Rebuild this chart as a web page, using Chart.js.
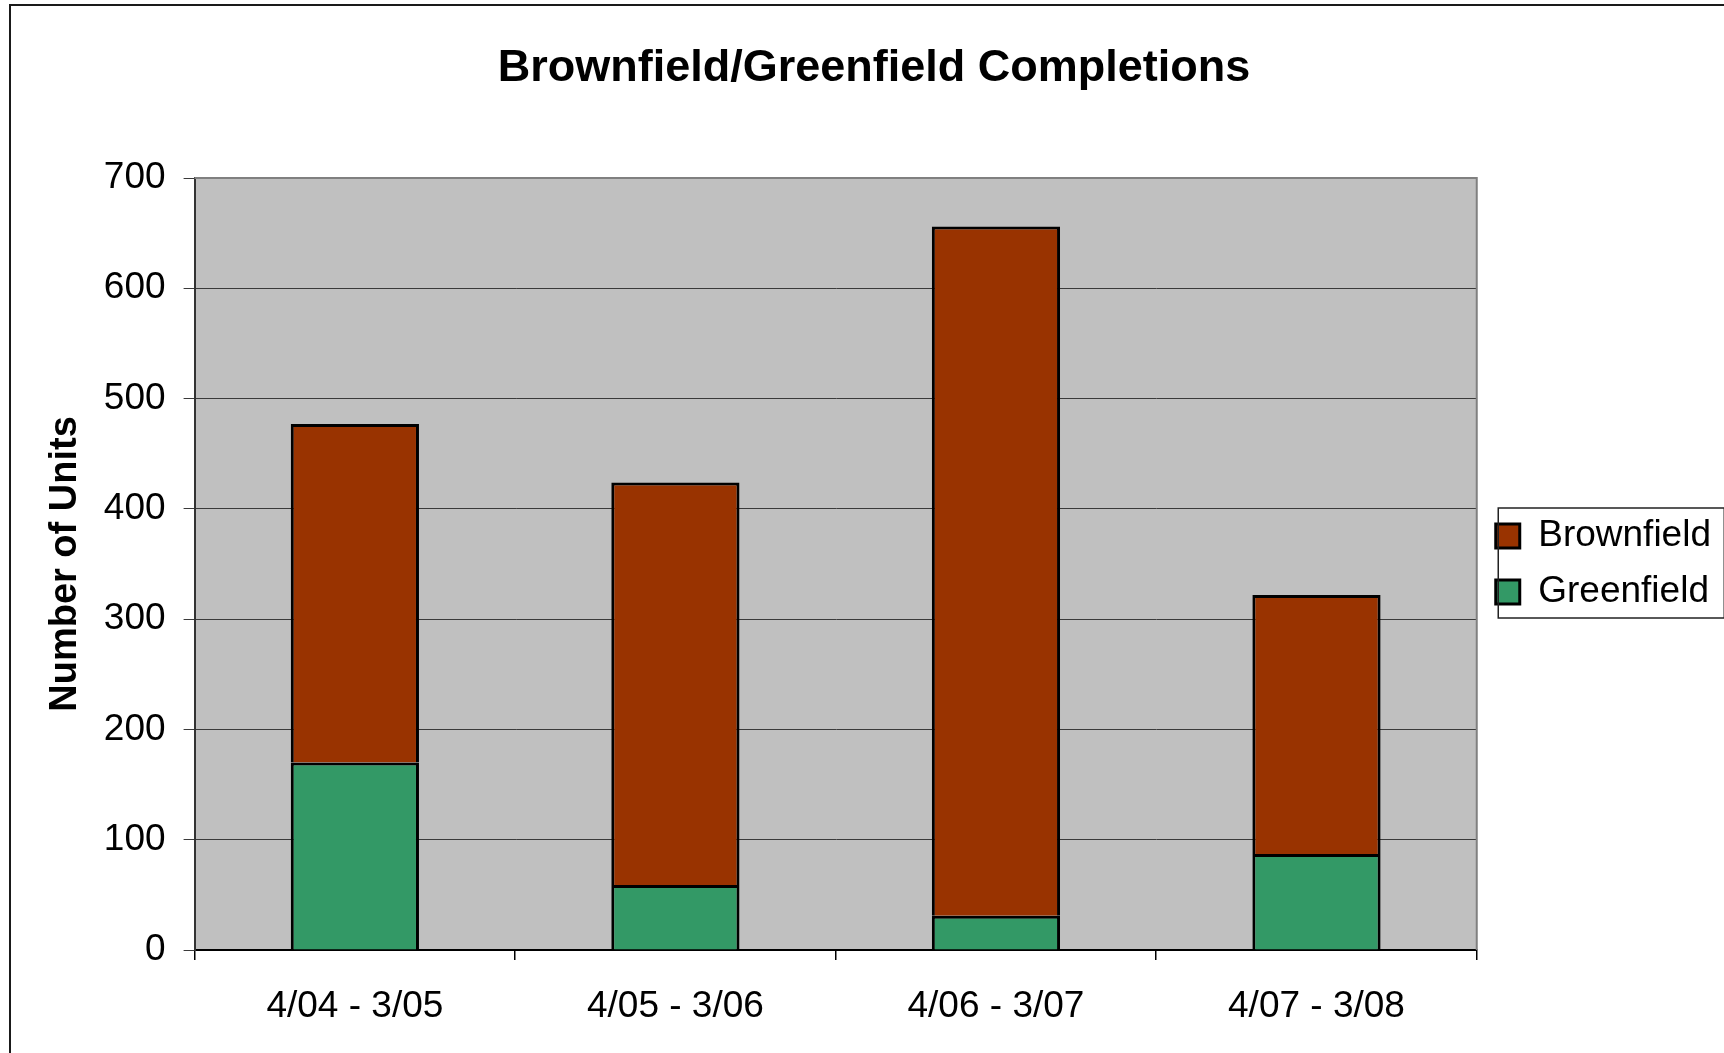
<!DOCTYPE html>
<html>
<head>
<meta charset="utf-8">
<title>Brownfield/Greenfield Completions</title>
<script src="https://cdn.jsdelivr.net/npm/chart.js@4.4.1/dist/chart.umd.min.js"></script>
<style>
  html, body { margin: 0; padding: 0; background: #fff; overflow: hidden; }
  #wrap { position: relative; width: 1724px; height: 1053px; }
  #chart { position: absolute; left: 0; top: 0; }
  #frame {
    position: absolute; left: 9px; top: 4px;
    width: 1780px; height: 1100px;
    border: 2px solid #1a1a1a;
    pointer-events: none;
  }
</style>
</head>
<body>
<div id="wrap">
  <canvas id="chart" width="1724" height="1053"></canvas>
  <div id="frame"></div>
</div>
<script>
/************** DATA **************/
const periods = ["4/04 - 3/05", "4/05 - 3/06", "4/06 - 3/07", "4/07 - 3/08"];
const brownfield = [307, 365, 625, 235];
const greenfield = [170, 59, 31, 87];
const yTicks = [0, 100, 200, 300, 400, 500, 600, 700];

/************** STYLE **************/
Chart.defaults.font.family = "'Liberation Sans', Arial, sans-serif";
Chart.defaults.color = "#000";

const FONT = 37;

// grey plot area + grey top/right edge, like the old Excel look
const plotArea = {
  id: "plotArea",
  beforeDraw(chart) {
    const { ctx, chartArea: a } = chart;
    ctx.save();
    ctx.fillStyle = "#c0c0c0";
    ctx.fillRect(a.left, a.top, a.right - a.left, a.bottom - a.top);
    ctx.restore();
  },
  beforeDatasetsDraw(chart) {
    const { ctx, chartArea: a } = chart;
    ctx.save();
    ctx.strokeStyle = "#808080";
    ctx.lineWidth = 2;
    ctx.beginPath();
    ctx.moveTo(a.left, a.top);
    ctx.lineTo(a.right, a.top);
    ctx.lineTo(a.right, a.bottom);
    ctx.stroke();
    ctx.restore();
  }
};

// box around the legend
const legendBox = {
  id: "legendBox",
  afterDraw(chart) {
    const lg = chart.legend;
    if (!lg || !lg.legendHitBoxes || !lg.legendHitBoxes.length) return;
    const hb = lg.legendHitBoxes;
    const first = hb[0], last = hb[hb.length - 1];
    const top = first.top + first.height / 2 - 28;
    const bottom = last.top + last.height / 2 + 26;
    const ctx = chart.ctx;
    ctx.save();
    ctx.strokeStyle = "#222";
    ctx.lineWidth = 1.5;
    ctx.strokeRect(chart.chartArea.right + 21.5, top, 226, bottom - top);
    ctx.restore();
  }
};

/************** CHART **************/
const ctx = document.getElementById("chart").getContext("2d");

new Chart(ctx, {
  type: "bar",
  data: {
    labels: periods,
    datasets: [
      {
        label: "Greenfield",
        data: greenfield,
        backgroundColor: "#339966",
        borderColor: "#000",
        borderWidth: 3
      },
      {
        label: "Brownfield",
        data: brownfield,
        backgroundColor: "#993300",
        borderColor: "#000",
        borderWidth: 3
      }
    ]
  },
  options: {
    responsive: false,
    animation: false,
    layout: { padding: { left: 27, right: 3, top: 0, bottom: 0 } },
    datasets: {
      bar: { categoryPercentage: 1, barPercentage: 0.4 }
    },
    plugins: {
      tooltip: { enabled: false },
      title: {
        display: true,
        text: "Brownfield/Greenfield Completions",
        font: { size: 45, weight: "bold" },
        color: "#000",
        padding: { top: 42, bottom: 82 }
      },
      legend: {
        display: true,
        position: "right",
        fullSize: false,
        maxWidth: 248.5,
        reverse: true,
        labels: {
          font: { size: FONT },
          color: "#000",
          boxWidth: 24,
          boxHeight: 24,
          padding: 19
        }
      }
    },
    scales: {
      x: {
        stacked: true,
        offset: true,
        afterFit: s => { s.height = 103; },
        grid: {
          offset: true,
          drawOnChartArea: false,
          drawTicks: true,
          tickLength: 10,
          color: "#000",
          lineWidth: 1.5
        },
        border: { color: "#000", width: 2 },
        ticks: { font: { size: FONT }, color: "#000", padding: 25, maxRotation: 0 }
      },
      y: {
        stacked: true,
        min: yTicks[0],
        max: yTicks[yTicks.length - 1],
        afterFit: s => { s.width = 167.6; },
        afterBuildTicks: s => { s.ticks = yTicks.map(v => ({ value: v })); },
        grid: {
          color: "#3a3a3a",
          lineWidth: 1,
          drawTicks: true,
          tickLength: 11
        },
        border: { color: "#333", width: 2 },
        ticks: { font: { size: FONT }, color: "#000", padding: 18 },
        title: {
          display: true,
          text: "Number of Units",
          font: { size: 38, weight: "bold" },
          color: "#000",
          padding: { top: 16, bottom: 0 }
        }
      }
    }
  },
  plugins: [plotArea, legendBox]
});
</script>
</body>
</html>
